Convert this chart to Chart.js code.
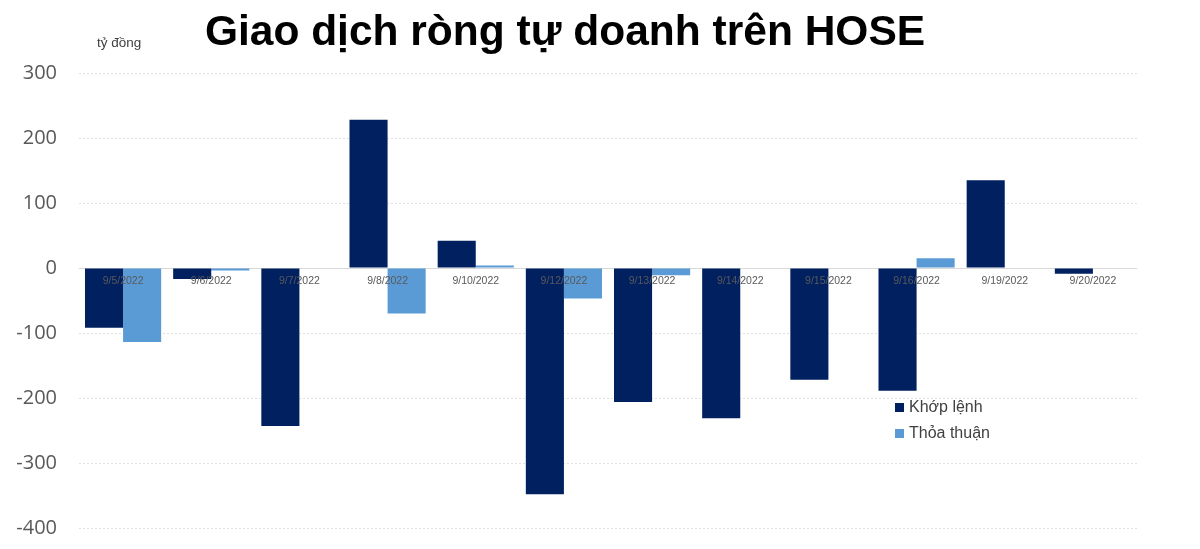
<!DOCTYPE html>
<html>
<head>
<meta charset="utf-8">
<script src="https://cdn.jsdelivr.net/npm/chart.js@4"></script>
<style>
    body { margin: 0; background: #fff; }
    #wrap { width: 1200px; height: 549px; position: relative; }
</style>
</head>
<body>
<div id="wrap"><canvas id="chart"></canvas></div>
<script>
const titleText = 'Giao dịch ròng tự doanh trên HOSE';
const unitText = 'tỷ đồng';

const dates = ['9/5/2022', '9/6/2022', '9/7/2022', '9/8/2022', '9/10/2022', '9/12/2022',
    '9/13/2022', '9/14/2022', '9/15/2022', '9/16/2022', '9/19/2022', '9/20/2022'];
const khopLenh = [-92, -17, -243, 228, 42, -348, -206, -231, -172, -189, 135, -9];
const thoaThuan = [-114, -4, 0, -70, 4, -47, -11, 0, 0, 15, 0, 0];
const yTicks = [300, 200, 100, 0, -100, -200, -300, -400];

// zero line, date labels over the bars, title, unit label and in-plot legend
const extras = {
    id: 'extras',
    beforeDatasetsDraw(chart) {
        const ctx = chart.ctx;
        const area = chart.chartArea;
        const zeroY = Math.round(chart.scales.y.getPixelForValue(0)) + 0.5;
        ctx.save();
        ctx.strokeStyle = '#d9d9d9';
        ctx.lineWidth = 1;
        ctx.beginPath();
        ctx.moveTo(area.left, zeroY);
        ctx.lineTo(area.right, zeroY);
        ctx.stroke();
        ctx.restore();
    },
    afterDraw(chart) {
        const ctx = chart.ctx;
        const xs = chart.scales.x;
        const zeroY = chart.scales.y.getPixelForValue(0);
        ctx.save();

        ctx.fillStyle = '#595959';
        ctx.font = '10.5px "Liberation Sans", Arial, sans-serif';
        ctx.textAlign = 'center';
        ctx.textBaseline = 'middle';
        dates.forEach((d, i) => {
            ctx.fillText(d, xs.getPixelForValue(i), zeroY + 13);
        });

        ctx.fillStyle = '#000';
        ctx.font = 'bold 42.5px "Liberation Sans", Arial, sans-serif';
        ctx.fillText(titleText, 565, 33);

        ctx.fillStyle = '#404040';
        ctx.font = '13.5px "Liberation Sans", Arial, sans-serif';
        ctx.textAlign = 'left';
        ctx.fillText(unitText, 97, 43);

        ctx.font = '16px "Liberation Sans", Arial, sans-serif';
        chart.data.datasets.forEach((ds, i) => {
            const y = 407 + i * 26;
            ctx.fillStyle = ds.backgroundColor;
            ctx.fillRect(895, y - 4, 9, 9);
            ctx.fillStyle = '#404040';
            ctx.fillText(ds.label, 909, y + 1);
        });
        ctx.restore();
    }
};

new Chart(document.getElementById('chart'), {
    type: 'bar',
    data: {
        labels: dates,
        datasets: [
            {
                label: 'Khớp lệnh',
                data: khopLenh,
                backgroundColor: '#002060',
                categoryPercentage: 0.864,
                barPercentage: 1
            },
            {
                label: 'Thỏa thuận',
                data: thoaThuan,
                backgroundColor: '#5b9bd5',
                categoryPercentage: 0.864,
                barPercentage: 1
            }
        ]
    },
    options: {
        responsive: true,
        maintainAspectRatio: false,
        animation: false,
        layout: { padding: { top: 73, right: 63, bottom: 21, left: 0 } },
        plugins: {
            legend: { display: false },
            title: { display: false },
            tooltip: { enabled: false }
        },
        scales: {
            x: {
                display: false
            },
            y: {
                min: -400,
                max: 300,
                afterFit(scale) { scale.width = 79; },
                afterBuildTicks(scale) { scale.ticks = yTicks.map(v => ({ value: v })); },
                // invisible tick marks push the labels left without adding vertical padding
                grid: { color: '#e0e0e0', lineWidth: 1, drawTicks: true, tickLength: 19, tickColor: 'rgba(0,0,0,0)' },
                border: { display: false, dash: [2, 2] },
                ticks: {
                    color: '#595959',
                    padding: 3,
                    font: { family: '"Open Sans", sans-serif', size: 20 }
                }
            }
        }
    },
    plugins: [extras]
});
</script>
</body>
</html>
